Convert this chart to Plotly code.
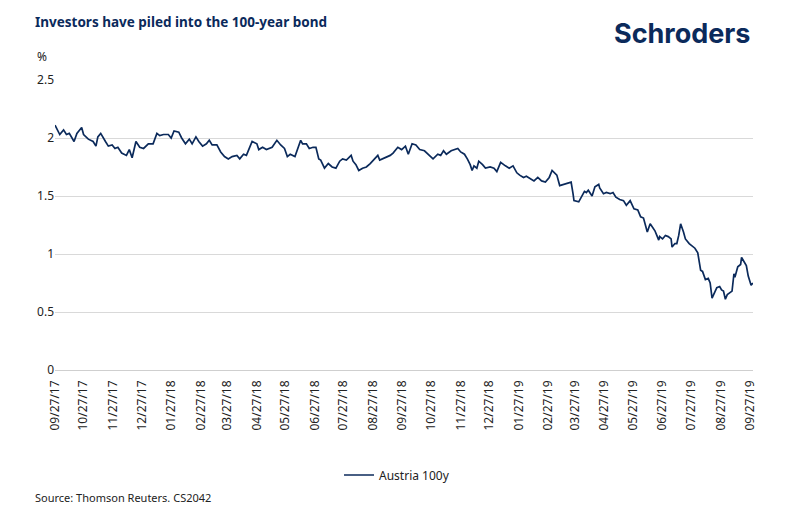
import pandas as pd
import plotly.graph_objects as go

# Austria 100y yield (%); day offsets from 27 Sep 2017
start_date = "2017-09-27"
day_offsets = [
    0, 5, 9, 12, 15, 20, 23, 28, 30, 35, 40, 43, 45, 48, 53, 56, 60, 63, 66, 70,
    75, 78, 81, 85, 89, 93, 98, 103, 107, 110, 114, 119, 122, 125, 130, 133, 137, 141, 144, 148,
    151, 155, 159, 162, 165, 170, 174, 178, 182, 186, 191, 194, 198, 201, 204, 207, 212, 214, 218, 222,
    228, 233, 237, 241, 244, 247, 252, 255, 258, 260, 264, 267, 271, 274, 277, 279, 283, 287, 291, 295,
    299, 302, 306, 311, 313, 316, 319, 323, 327, 331, 335, 339, 341, 347, 352, 355, 360, 364, 368, 371,
    375, 379, 383, 388, 392, 397, 402, 405, 408, 411, 416, 419, 423, 426, 430, 433, 436, 438, 440, 443,
    445, 449, 452, 457, 461, 464, 468, 473, 477, 481, 485, 488, 492, 495, 500, 503, 507, 511, 515, 519,
    522, 527, 530, 534, 539, 542, 544, 545, 550, 553, 556, 558, 560, 564, 567, 571, 572, 576, 579, 583,
    586, 589, 593, 597, 600, 604, 608, 612, 615, 618, 622, 625, 628, 630, 632, 634, 635, 638, 641, 644,
    647, 648, 651, 653, 655, 657, 660, 662, 666, 669, 672, 675, 678, 680, 683, 686, 688, 690, 693, 695,
    698, 700, 702, 704, 706, 708, 711, 713, 714, 717, 720, 721, 723, 726, 728, 731, 733,
]
austria_100y = [
    2.11, 2.03, 2.07, 2.03, 2.04, 1.97, 2.04, 2.09, 2.03, 1.99, 1.97, 1.93, 2.01, 2.04, 1.97, 1.93, 1.94, 1.91, 1.92, 1.87,
    1.85, 1.90, 1.83, 1.97, 1.92, 1.91, 1.95, 1.95, 2.04, 2.02, 2.03, 2.03, 2.00, 2.06, 2.05, 2.00, 1.95, 1.99, 1.95, 2.01,
    1.97, 1.93, 1.95, 1.98, 1.94, 1.94, 1.88, 1.84, 1.82, 1.84, 1.85, 1.82, 1.86, 1.85, 1.91, 1.97, 1.95, 1.90, 1.92, 1.90,
    1.92, 1.98, 1.94, 1.91, 1.84, 1.86, 1.84, 1.91, 1.98, 1.95, 1.95, 1.91, 1.92, 1.92, 1.82, 1.81, 1.74, 1.78, 1.75, 1.74,
    1.80, 1.82, 1.81, 1.85, 1.80, 1.77, 1.72, 1.74, 1.75, 1.78, 1.82, 1.85, 1.81, 1.83, 1.85, 1.87, 1.92, 1.90, 1.93, 1.86,
    1.95, 1.94, 1.90, 1.89, 1.86, 1.82, 1.86, 1.85, 1.89, 1.86, 1.89, 1.90, 1.91, 1.88, 1.86, 1.82, 1.77, 1.72, 1.76, 1.74,
    1.80, 1.77, 1.74, 1.75, 1.74, 1.71, 1.79, 1.76, 1.74, 1.76, 1.70, 1.68, 1.66, 1.67, 1.64, 1.63, 1.66, 1.63, 1.62, 1.66,
    1.72, 1.68, 1.59, 1.60, 1.61, 1.62, 1.52, 1.46, 1.45, 1.49, 1.54, 1.53, 1.55, 1.50, 1.58, 1.60, 1.57, 1.52, 1.53, 1.52,
    1.53, 1.49, 1.47, 1.46, 1.42, 1.46, 1.39, 1.38, 1.32, 1.31, 1.19, 1.26, 1.22, 1.20, 1.16, 1.12, 1.15, 1.13, 1.16, 1.15,
    1.13, 1.06, 1.09, 1.09, 1.16, 1.26, 1.19, 1.13, 1.09, 1.07, 1.05, 1.01, 0.86, 0.85, 0.78, 0.79, 0.75, 0.62, 0.68, 0.71,
    0.72, 0.69, 0.68, 0.61, 0.65, 0.66, 0.68, 0.83, 0.80, 0.89, 0.91, 0.97, 0.94, 0.90, 0.81, 0.73, 0.75,
]
tick_dates = pd.date_range("2017-09-01", "2019-09-01", freq="MS") + pd.Timedelta(days=26)
y_ticks = [0, 0.5, 1, 1.5, 2, 2.5]

NAVY = "#0b2a5b"
FONT = "Noto Sans, Open Sans, sans-serif"

dates = pd.Timestamp(start_date) + pd.to_timedelta(day_offsets, unit="D")

fig = go.Figure()
fig.add_trace(go.Scatter(
    x=dates, y=austria_100y,
    mode="lines",
    name="Austria 100y",
    line=dict(color=NAVY, width=1.7),
))

fig.update_layout(
    width=802, height=522,
    margin=dict(l=55, r=49, t=80, b=152, autoexpand=False),
    plot_bgcolor="white", paper_bgcolor="white",
    font=dict(family=FONT, size=12, color="#222"),
    showlegend=True,
    legend=dict(
        orientation="h", x=0.49, xanchor="center", y=-0.362, yanchor="middle",
        font=dict(size=12, color="#222"),
    ),
    xaxis=dict(
        type="date",
        range=[pd.Timestamp("2017-09-27"), pd.Timestamp("2019-09-30")],
        tickvals=list(tick_dates),
        tickformat="%m/%d/%y",
        tickangle=-90,
        ticklabelstandoff=7,
        automargin=False,
        showgrid=False, zeroline=False, showline=False,
        ticks="", tickfont=dict(size=12, color="#222"),
    ),
    yaxis=dict(
        range=[0, 2.5],
        tickvals=y_ticks,
        ticktext=[f"{v:g}" for v in y_ticks],
        automargin=False,
        showgrid=True, gridcolor="#d9d9d9", gridwidth=1,
        zeroline=True, zerolinecolor="#cfcfcf", zerolinewidth=1,
        showline=False, ticks="", tickfont=dict(size=12, color="#222"),
    ),
)

fig.add_annotation(
    text="<b>Investors have piled into the 100-year bond</b>",
    xref="paper", yref="paper", x=-0.032, y=1.2, xanchor="left", yanchor="middle",
    showarrow=False, font=dict(size=13.5, color=NAVY, family=FONT),
)
fig.add_annotation(
    text="<b>Schroders</b>",
    xref="paper", yref="paper", x=1.0, y=1.162, xanchor="right", yanchor="middle",
    showarrow=False, font=dict(size=27, color=NAVY, family="Inter, Noto Sans, sans-serif"),
)
fig.add_annotation(
    text="%",
    xref="paper", yref="paper", x=-0.018, y=1.08, xanchor="center", yanchor="middle",
    showarrow=False, font=dict(size=12, color="#222"),
)
fig.add_annotation(
    text="Source: Thomson Reuters. CS2042",
    xref="paper", yref="paper", x=-0.032, y=-0.438, xanchor="left", yanchor="middle",
    showarrow=False, font=dict(size=11, color="#222"),
)

# the page's default 8px body margin would shift the whole figure
fig.write_html(
    "out.html",
    config={"displayModeBar": False},
    post_script="document.body.style.margin = '0';",
)
